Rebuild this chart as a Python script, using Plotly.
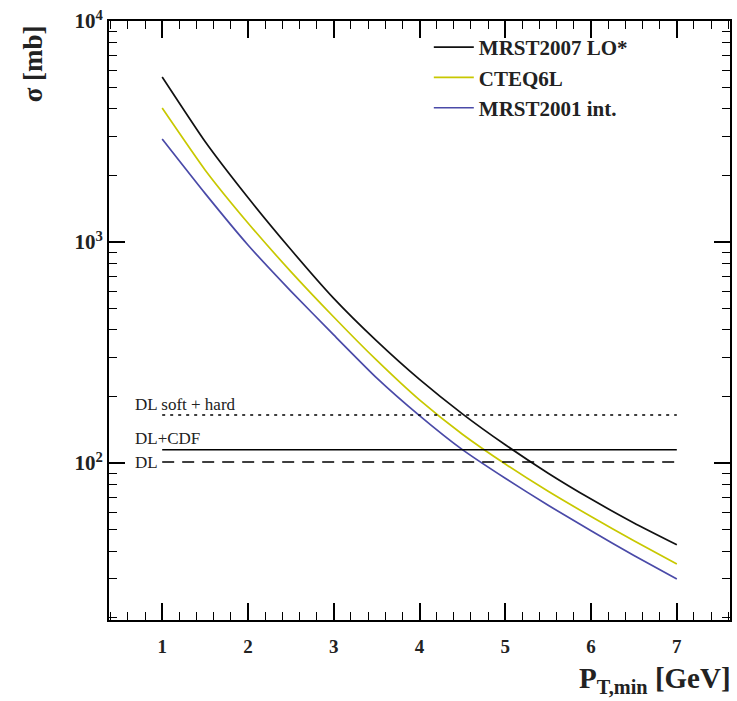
import math
import plotly.graph_objects as go

# Total cross section vs. minimum transverse momentum for three PDF sets
pt_min = [1.0, 1.5, 2.0, 2.5, 3.0, 3.5, 4.0, 4.5, 5.0, 5.5, 6.0, 6.5, 7.0]
sigma_mrst2007 = [5580, 2850, 1590, 925, 556, 357, 239, 167, 121, 90, 68.7, 53.6, 42.7]
sigma_cteq6l = [4040, 2120, 1220, 735, 458, 292, 193, 135, 99, 74.5, 57.3, 44.5, 34.9]
sigma_mrst2001 = [2925, 1660, 970, 600, 380, 243, 164, 115, 85.3, 64.4, 49.4, 38.2, 29.9]
series_names = ["MRST2007 LO*", "CTEQ6L", "MRST2001 int."]

# Donnachie-Landshoff reference cross sections (mb)
ref_names = ["DL soft + hard", "DL+CDF", "DL"]
ref_values = [165, 115, 101]
ref_range = [1.0, 7.0]

y_tickvals = [100, 1000, 10000]
y_ticktext = ["<b>10<sup>2</sup></b>", "<b>10<sup>3</sup></b>", "<b>10<sup>4</sup></b>"]
x_tickvals = [1, 2, 3, 4, 5, 6, 7]

SERIF = "Liberation Serif"
colors = ["#111111", "#c8c800", "#4a4aa8"]

fig = go.Figure()

for name, ys, col in zip(series_names, [sigma_mrst2007, sigma_cteq6l, sigma_mrst2001], colors):
    fig.add_trace(go.Scatter(
        x=pt_min, y=ys, mode="lines", name=name, legendgroup=name,
        line=dict(color=col, width=1.7, shape="spline", smoothing=0.5),
    ))

dashes = ["3px,5px", "solid", "12px,8px"]
for name, val, dash in zip(ref_names, ref_values, dashes):
    fig.add_trace(go.Scatter(
        x=ref_range, y=[val, val], mode="lines", showlegend=False, name=name,
        line=dict(color="black", width=1.5, dash=dash), hoverinfo="skip",
    ))

# Labels for the reference lines
label_offsets = [11, 11, 0]
for name, val, dy in zip(ref_names, ref_values, label_offsets):
    fig.add_annotation(
        x=0.665, y=math.log10(val), xref="x", yref="y",
        text=name, showarrow=False, xanchor="left", yanchor="middle", yshift=dy,
        font=dict(family=SERIF, size=17, color="#222222"),
    )

# Axis titles
fig.add_annotation(
    x=-0.122, y=0.928, xref="paper", yref="paper", xanchor="center", yanchor="middle",
    text="<b>σ [mb]</b>", textangle=-90, showarrow=False,
    font=dict(family=SERIF, size=27, color="#222222"),
)
fig.add_annotation(
    x=1.005, y=-0.1, xref="paper", yref="paper", xanchor="right", yanchor="middle",
    text="<b>P<sub>T,min</sub> [GeV]</b>", showarrow=False,
    font=dict(family=SERIF, size=29, color="#222222"),
)

axis_common = dict(
    showgrid=False, zeroline=False, showline=True, linecolor="black", linewidth=2,
    mirror="allticks", ticks="inside", tickcolor="black", tickwidth=1.5,
)

fig.update_xaxes(
    range=[0.38, 7.62], tickvals=x_tickvals, ticklen=17, ticklabelstandoff=8,
    tickfont=dict(family=SERIF, size=19, color="#222222", weight="bold"),
    minor=dict(ticks="inside", ticklen=8, dtick=0.2, tick0=0, tickcolor="black", tickwidth=1.2, showgrid=False),
    **axis_common,
)
fig.update_yaxes(
    type="log", range=[1.29, 4.0], tickvals=y_tickvals, ticktext=y_ticktext, ticklen=16,
    tickfont=dict(family=SERIF, size=21, color="#222222"),
    minor=dict(ticks="inside", ticklen=8, dtick="D1", tickcolor="black", tickwidth=1.2, showgrid=False),
    **axis_common,
)

fig.update_layout(
    width=737, height=701,
    margin=dict(l=109, r=5, t=21, b=81),
    paper_bgcolor="white", plot_bgcolor="white",
    legend=dict(
        x=0.515, y=0.99, xanchor="left", yanchor="top",
        bgcolor="rgba(0,0,0,0)", tracegroupgap=0, itemwidth=40,
        font=dict(family=SERIF, size=21, color="#222222", weight="bold"),
    ),
)

fig.write_html("out.html")
